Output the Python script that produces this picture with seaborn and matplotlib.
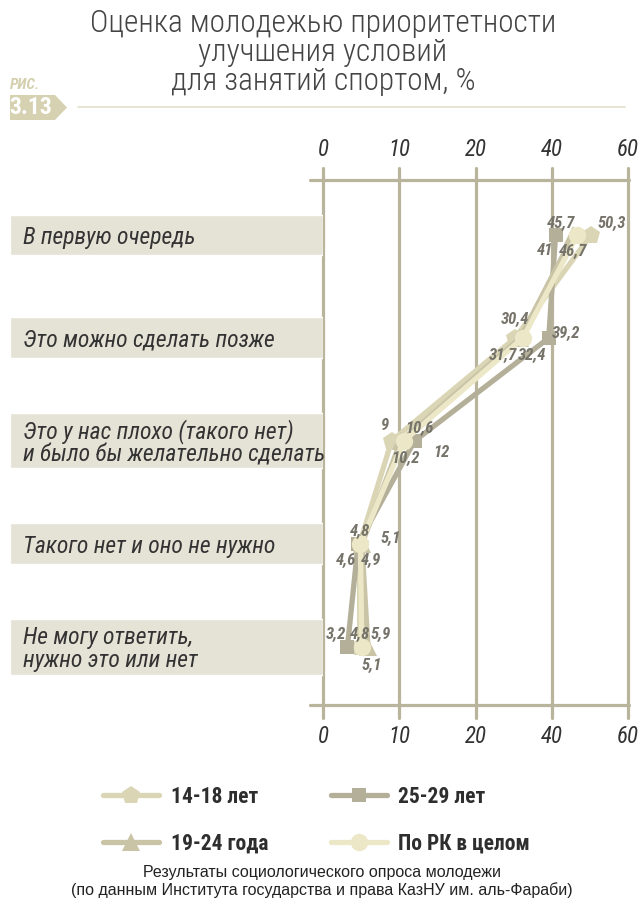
import numpy as np
import pandas as pd
import matplotlib
matplotlib.use('Agg')
import matplotlib.pyplot as plt
import seaborn as sns
from matplotlib.patches import Polygon
from matplotlib.lines import Line2D

# Data
categories = ["В первую очередь",
              "Это можно сделать позже",
              "Это у нас плохо (такого нет)\nи было бы желательно сделать",
              "Такого нет и оно не нужно",
              "Не могу ответить,\nнужно это или нет"]
groups = ["14-18 лет", "25-29 лет", "19-24 года", "По РК в целом"]
vals_14_18 = [50.3, 30.4, 9, 4.8, 4.8]
vals_25_29 = [41, 39.2, 12, 4.6, 3.2]
vals_19_24 = [45.7, 31.7, 10.2, 5.1, 5.9]
vals_rk = [46.7, 32.4, 10.6, 4.9, 5.1]
x_ticks = [0, 10, 20, 40, 60]

# styling
colors = ["#dad5b4", "#b4af98", "#c9c4a6", "#ebe7c7"]
markers = ["p", "s", "^", "o"]
msizes = [13.5, 9.5, 13.5, 12.5]
# label offsets in pixels (dx, dy down) per group, per row
lab_off = [
    [(21, -12), (0, -19), (-7, -15), (0, -13), (0, -13)],
    [(-11, 16), (17, -5), (27, 12), (-12, 16), (-11, -13)],
    [(-12, -12), (-17, 17), (5, 17), (29, -6), (13, -13)],
    [(-4, 16), (9, 17), (16, -13), (11, 16), (10, 18)],
]
band_h_px = [40, 41, 55, 41, 56]
grid_c = "#b9b59d"
band_c = "#e5e2d6"
lab_c = "#76746a"

W, H = 642, 901
NARROW = ['Liberation Sans Narrow', 'Roboto Condensed', 'DejaVu Sans']

sns.set_style("white")
plt.rcParams['font.family'] = NARROW


def fx(x):
    return x / W


def fy(y):
    return 1 - y / H


# piecewise axis: 0-20 one step per 10, 20-60 one step per 20
def fwd(x):
    x = np.asarray(x, float)
    return np.where(x < 20, x, 20 + (x - 20) / 2)


def inv(y):
    y = np.asarray(y, float)
    return np.where(y < 20, y, 20 + (y - 20) * 2)


fig = plt.figure(figsize=(W / 100, H / 100), dpi=100)
ax = fig.add_axes([fx(323), fy(718), 305 / W, 550 / H])
axl = fig.add_axes([fx(10), fy(718), 313 / W, 550 / H], sharey=ax)

row_px = 103.0
rows = np.arange(len(categories))

all_vals = [vals_14_18, vals_25_29, vals_19_24, vals_rk]
for i, (g, vals) in enumerate(zip(groups, all_vals)):
    df = pd.DataFrame({'value': vals, 'row': rows})
    sns.lineplot(data=df, x='value', y='row', orient='y', sort=False, estimator=None,
                 color=colors[i], marker=markers[i], markersize=msizes[i],
                 markeredgewidth=0, linewidth=3.8, ax=ax, label=g, zorder=3 + i)
    for r, v in enumerate(vals):
        dx, dy = lab_off[i][r]
        ax.annotate(f"{v:g}".replace('.', ','), (v, r), xytext=(dx * 0.72, -dy * 0.72),
                    textcoords='offset points', ha='center', va='center',
                    fontsize=12, fontstyle='italic', fontweight='bold', color=lab_c,
                    zorder=10)

if ax.get_legend() is not None:
    ax.get_legend().remove()

ax.set_xscale('function', functions=(fwd, inv))
ax.set_xlim(0, 60)
ax.set_ylim(4 + 71 / row_px, -67 / row_px)
ax.set_xticks(x_ticks)
ax.set_xticklabels([str(t) for t in x_ticks])
ax.set_yticks([])
ax.set_xlabel('')
ax.set_ylabel('')
ax.grid(axis='x', color=grid_c, lw=2.3)
ax.grid(axis='y', visible=False)
for gl in ax.get_xgridlines():
    gl.set_clip_on(False)
ax.set_axisbelow(True)
for s in ax.spines.values():
    s.set_visible(False)
ax.tick_params(axis='x', length=0, top=True, labeltop=True, bottom=True, labelbottom=True,
               labelsize=16.5, labelcolor='#333333', pad=5)
for lbl in ax.get_xticklabels():
    lbl.set_fontstyle('italic')

# frame lines top and bottom
for yf in [1 - 12 / 550, 13 / 550]:
    ax.plot([-13 / 305, 1.003], [yf, yf], transform=ax.transAxes, color=grid_c,
            lw=2.3, clip_on=False, zorder=1)

# category bands
axl.barh(rows, [1] * len(rows), height=np.array(band_h_px) / row_px, left=0,
         color=band_c, zorder=0)
axl.set_xlim(0, 1)
axl.axis('off')
for r, c in enumerate(categories):
    axl.text(13 / 313, r + 0.02, c, ha='left', va='center', fontsize=17,
             fontstyle='italic', color='#333333', linespacing=0.98)

# title
fig.text(fx(323), fy(9), "Оценка молодежью приоритетности\nулучшения условий\nдля занятий спортом, %",
         ha='center', va='top', fontsize=22.5, fontweight='light', color='#444444',
         linespacing=1.0)

# figure badge
badge = Polygon([(fx(10), fy(95)), (fx(55), fy(95)), (fx(67), fy(107.5)),
                 (fx(55), fy(120)), (fx(10), fy(120))], closed=True,
                transform=fig.transFigure, color="#d6d1b1", lw=0)
fig.patches.append(badge)
fig.text(fx(10), fy(85), "РИС.", fontsize=11, fontstyle='italic', fontweight='bold',
         color="#d4cfae", va='center', ha='left')
fig.text(fx(31), fy(108), "3.13", fontsize=17, fontweight='bold', color='white',
         va='center', ha='center')
fig.lines.append(Line2D([fx(78), fx(625)], [fy(107), fy(107)], transform=fig.transFigure,
                        color="#e3dfc8", lw=1.2))

# legend
handles, labels = ax.get_legend_handles_labels()
order = [0, 2, 1, 3]
fig.legend([handles[k] for k in order], [labels[k] for k in order], ncol=2,
           loc='upper left', bbox_to_anchor=(fx(103), fy(786)), frameon=False,
           prop={'family': NARROW, 'weight': 'bold', 'size': 15.5},
           handlelength=2.6, handletextpad=0.55, columnspacing=2.9, labelspacing=1.13,
           borderpad=0, borderaxespad=0, labelcolor='#2e2e2e')

# source note
fig.text(fx(322), fy(865), "Результаты социологического опроса молодежи\n"
         "(по данным Института государства и права КазНУ им. аль-Фараби)",
         ha='center', va='top', fontsize=11.5, family=['Liberation Sans', 'DejaVu Sans'],
         color='#222222', linespacing=1.18)

fig.savefig('out.png', dpi=100)
